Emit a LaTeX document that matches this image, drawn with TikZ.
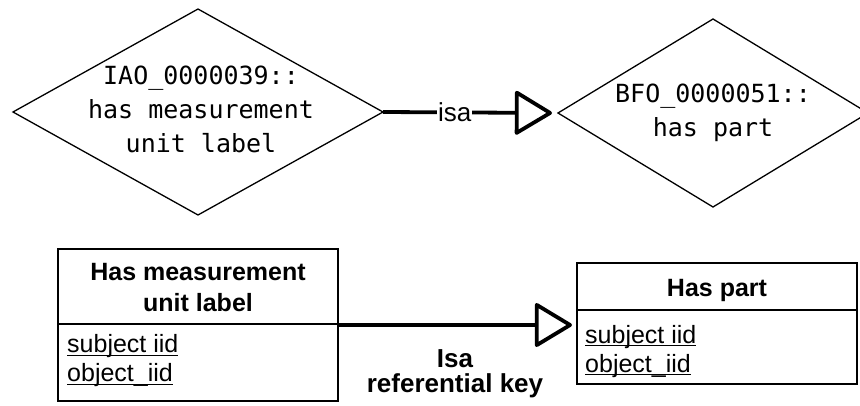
\documentclass[tikz,border=0pt]{standalone}
\usepackage{fontspec}
\setmainfont{Liberation Sans}
\newfontfamily\monofont{DejaVu Sans Mono}
\usetikzlibrary{shapes.geometric,arrows.meta,calc}
\newcommand\ulfield[1]{\setbox0\hbox{#1}\rlap{\rule[-3.2pt]{\wd0}{1.3pt}}\box0}
\begin{document}
\begin{tikzpicture}[x=1pt,y=-1pt,
  reldia/.style={diamond, draw, line width=1.3pt, inner sep=0pt, outer sep=0pt},
  monotxt/.style={font=\monofont\fontsize{25}{34}\selectfont, align=center, inner sep=0pt},
  tbl/.style={rectangle, draw, line width=1.5pt, inner sep=0pt, outer sep=0pt},
  tblhead/.style={font=\bfseries\fontsize{25}{32}\selectfont, align=center, inner sep=0pt},
  tblfield/.style={font=\fontsize{25}{29}\selectfont, align=left, inner sep=0pt},
  conn/.style={line width=3.8pt, line join=round,
    -{Triangle[open, length=39pt, width=46pt, line join=round]}},
  connlabel/.style={font=\fontsize{26}{26}\selectfont, fill=white, inner sep=1pt},
  keylabel/.style={font=\bfseries\fontsize{26}{25}\selectfont, align=center, inner sep=0pt}]
\clip (0,0) rectangle (860,406);
\fill[white] (0,0) rectangle (860,406);
% diamonds
\node[reldia, minimum width=370pt, minimum height=206pt] (d1) at (198,112) {};
\node[reldia, minimum width=310pt, minimum height=188pt] (d2) at (713,113) {};
\node[monotxt, anchor=base] (d1t) at (201,153) {IAO\_0000039::\\has measurement\\unit label};
\node[monotxt, anchor=base] (d2t) at (713,137) {BFO\_0000051::\\has part};
\draw[conn, shorten >=6pt] (d1.east) -- node[connlabel, pos=0.41] {isa} (d2.west);
% tables
\node[tbl, minimum width=280pt, minimum height=152pt] (t1) at (198,325) {};
\node[tbl, minimum width=280pt, minimum height=121pt] (t2) at (717,323.5) {};
\coordinate (h1) at (0,324);
\coordinate (h2) at (0,310);
\draw[line width=1.5pt] (t1.west |- h1) -- (t1.east |- h1);
\draw[line width=1.5pt] (t2.west |- h2) -- (t2.east |- h2);
\node[tblhead, anchor=base] (t1h) at (198,312) {Has measurement\\unit label};
\node[tblhead, anchor=base] (t2h) at (717,296.5) {Has part};
\node[tblfield, anchor=base west] (t1f) at (67,381.7) {\ulfield{subject iid}\\\ulfield{object\_iid}};
\node[tblfield, anchor=base west] (t2f) at (585,372) {\ulfield{subject iid}\\\ulfield{object\_iid}};
\draw[conn, shorten >=5pt] (t1.east) -- (t1.east -| t2.west);
\node[keylabel, anchor=base] (kl) at (455,392) {Isa\\referential key};
\end{tikzpicture}
\end{document}
